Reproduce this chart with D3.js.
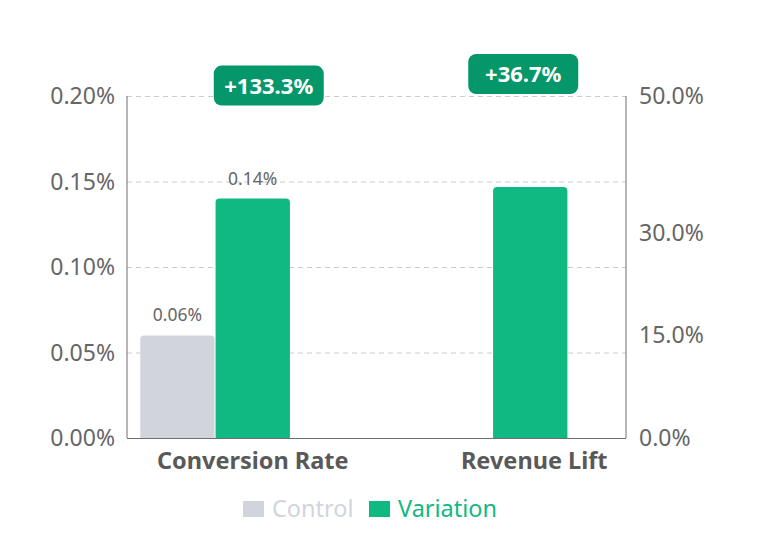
<!DOCTYPE html>
<html>
<head>
<meta charset="utf-8">
<script src="https://cdn.jsdelivr.net/npm/d3@7"></script>
<style>
  body { margin: 0; background: #fff; }
  svg text { font-family: "Noto Sans", "Open Sans", sans-serif; }
</style>
</head>
<body>
<svg id="chart" width="762" height="536"></svg>
<script>
// data
const categories = ["Conversion Rate", "Revenue Lift"];
const seriesNames = ["Control", "Variation"];
const controlValues = [0.06, 0];
const variationValues = [0.14, 36.7];
const valueAxis = ["left", "right"];       // which y axis each category uses
const showValueLabel = [true, false];
const liftLabels = ["+133.3%", "+36.7%"];
const leftTicks = [0, 0.05, 0.10, 0.15, 0.20];
const rightTicks = [0, 15, 30, 50];

const colors = { Control: "#d1d5db", Variation: "#10b981" };
const badgeColor = "#059669";

const svg = d3.select("#chart");
const plot = { left: 127, right: 626, top: 96, bottom: 438 };

const yL = d3.scaleLinear().domain([0, 0.2]).range([plot.bottom, plot.top]);
const yR = d3.scaleLinear().domain([0, 50]).range([plot.bottom, plot.top]);
const x = d3.scaleBand().domain(categories).range([114, 669]);
const xs = d3.scaleBand().domain(["Control", "Variation", "_"])
  .range([-112.5, 112.5]).paddingInner(0.013);
const cx = c => x(c) + x.bandwidth() / 2;
const yFor = i => valueAxis[i] === "left" ? yL : yR;

// grid
svg.append("g").selectAll("line").data(leftTicks.slice(1)).join("line")
  .attr("x1", plot.left).attr("x2", plot.right)
  .attr("y1", d => yL(d) + 0.5).attr("y2", d => yL(d) + 0.5)
  .attr("stroke", "#cccccc").attr("stroke-dasharray", "5,4");

// bars
const rows = [];
categories.forEach((c, i) => {
  rows.push({ cat: c, i, name: "Control", v: controlValues[i] });
  rows.push({ cat: c, i, name: "Variation", v: variationValues[i] });
});
const topRounded = (x0, y0, w, h, r) => {
  r = Math.min(r, h, w / 2);
  return `M${x0},${y0 + h}V${y0 + r}Q${x0},${y0} ${x0 + r},${y0}H${x0 + w - r}Q${x0 + w},${y0} ${x0 + w},${y0 + r}V${y0 + h}Z`;
};
svg.append("g").selectAll("path").data(rows.filter(d => d.v > 0)).join("path")
  .attr("fill", d => colors[d.name])
  .attr("d", d => {
    const y = yFor(d.i);
    return topRounded(cx(d.cat) + xs(d.name), y(d.v), xs.bandwidth(), plot.bottom - y(d.v), 4);
  });

// value labels
svg.append("g").selectAll("text").data(rows.filter(d => d.v > 0 && showValueLabel[d.i])).join("text")
  .attr("x", d => cx(d.cat) + xs(d.name) + xs.bandwidth() / 2)
  .attr("y", d => yFor(d.i)(d.v) - 14)
  .attr("text-anchor", "middle")
  .attr("font-size", 17.5).attr("fill", "#666")
  .text(d => d.v.toFixed(2) + "%");

// axes
svg.append("line").attr("x1", plot.left).attr("x2", plot.left)
  .attr("y1", plot.top).attr("y2", plot.bottom).attr("stroke", "#6e6e6e");
svg.append("line").attr("x1", plot.right).attr("x2", plot.right)
  .attr("y1", plot.top).attr("y2", plot.bottom).attr("stroke", "#6e6e6e");
svg.append("line").attr("x1", plot.left).attr("x2", plot.right)
  .attr("y1", plot.bottom + 0.5).attr("y2", plot.bottom + 0.5).attr("stroke", "#6e6e6e");

svg.append("g").selectAll("text").data(leftTicks).join("text")
  .attr("x", plot.left - 12).attr("y", d => yL(d) + 8)
  .attr("text-anchor", "end").attr("font-size", 23).attr("fill", "#666")
  .text(d => d3.format(".2f")(d) + "%");
svg.append("g").selectAll("text").data(rightTicks).join("text")
  .attr("x", plot.right + 13).attr("y", d => yR(d) + 8)
  .attr("text-anchor", "start").attr("font-size", 23).attr("fill", "#666")
  .text(d => d3.format(".1f")(d) + "%");

svg.append("g").selectAll("text").data(categories).join("text")
  .attr("x", (d, i) => cx(d) + (i === 1 ? 4 : 0)).attr("y", plot.bottom + 31)
  .attr("text-anchor", "middle").attr("font-size", 23.5).attr("font-weight", "bold")
  .attr("fill", "#595959")
  .text(d => d);

// lift badges
const badgeDx = [16, -7];
const badges = svg.append("g").selectAll("g").data(categories).join("g")
  .attr("transform", (c, i) => {
    const y = yFor(i)(variationValues[i]) - 113;
    return `translate(${cx(c) + badgeDx[i]},${y})`;
  });
badges.append("rect")
  .attr("x", -55).attr("y", -20).attr("width", 110).attr("height", 40)
  .attr("rx", 8).attr("fill", badgeColor);
badges.append("text")
  .attr("text-anchor", "middle").attr("y", 8)
  .attr("font-size", 22).attr("font-weight", "bold").attr("fill", "#fff")
  .text((c, i) => liftLabels[i]);

// legend
const legend = svg.append("g").attr("transform", "translate(243,501)");
const legendX = [0, 126];
seriesNames.forEach((s, i) => {
  legend.append("rect").attr("x", legendX[i]).attr("y", 0)
    .attr("width", 21).attr("height", 16).attr("fill", colors[s]);
  legend.append("text").attr("x", legendX[i] + 29).attr("y", 15.5)
    .attr("font-size", 23.5).attr("fill", colors[s]).text(s);
});
</script>
</body>
</html>
